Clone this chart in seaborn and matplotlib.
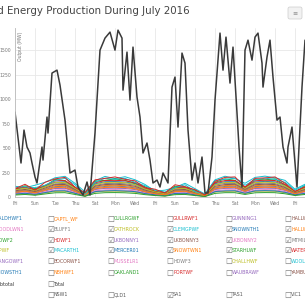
import numpy as np
import pandas as pd
import matplotlib
matplotlib.use('Agg')
import matplotlib.pyplot as plt
import matplotlib.dates as mdates
from matplotlib.patches import FancyBboxPatch
import seaborn as sns

# SA1 regional wind output (black line), day offset from 1 July 2016 and MW
sa1_day = [0.0, 0.6, 0.9, 1.2, 1.5, 1.7, 2.0, 2.2, 2.7, 2.8, 3.2, 3.3, 3.7, 4.2, 4.5, 5.0,
           5.5, 6.0, 6.3, 6.8, 7.2, 7.5, 8.0, 8.5, 9.0, 9.5, 10.0, 10.3, 10.7, 10.8, 11.2,
           11.5, 11.8, 12.2, 12.5, 12.8, 13.2, 13.5, 13.8, 14.2, 14.5, 14.8, 15.3, 15.7,
           16.0, 16.3, 16.7, 17.0, 17.3, 17.7, 18.0, 18.3, 18.7, 19.0, 19.3, 19.7, 20.0,
           20.5, 20.8, 21.1, 21.5, 21.8, 22.2, 22.4, 22.7, 23.0, 23.3, 23.7, 24.0, 24.3,
           24.7, 24.8, 25.2, 25.5, 25.8, 26.2, 26.5, 26.8, 27.2, 27.3, 27.7, 28.2, 28.7, 29.0]
sa1_mw = [867, 347, 683, 510, 449, 347, 204, 143, 510, 377, 816, 653, 1265, 1295, 1142, 785,
          245, 275, 102, 20, 153, 20, 653, 1499, 1622, 1683, 1499, 1703, 1622, 1091, 1479,
          989, 1530, 1020, 816, 449, 551, 377, 143, 173, 102, 245, 143, 1122,
          1224, 714, 1469, 1367, 683, 173, 347, 143, 408, 41, 41, 408, 989,
          1673, 1295, 1632, 1163, 1530, 857, 510, 102, 1499, 1601, 1397, 1632, 1673,
          1367, 1122, 1428, 1601, 1224, 785, 816, 510, 347, 510, 714, 102, 1122, 1601]

# daily output of the ticked wind farms (MW)
farm_day = list(range(30))
WOODLWN1 = [48, 62, 41, 72, 96, 93, 58, 17, 83, 97, 95, 98, 86, 52, 33, 22, 57, 61, 32, 12, 86, 96, 99, 58, 95, 99, 96, 73, 31, 59]
BLUFF1 = [72, 84, 61, 101, 134, 139, 83, 27, 118, 137, 140, 135, 121, 77, 47, 31, 79, 86, 46, 17, 122, 139, 138, 84, 136, 141, 137, 104, 47, 83]
CATHROCK = [26, 34, 22, 41, 57, 58, 36, 9, 51, 58, 60, 57, 49, 31, 19, 11, 33, 36, 19, 6, 51, 57, 59, 36, 58, 60, 58, 44, 19, 36]
CLEMGPWF = [110, 95, 120, 150, 196, 211, 140, 52, 165, 210, 188, 207, 176, 128, 60, 70, 98, 140, 85, 30, 175, 212, 190, 140, 200, 213, 196, 170, 80, 130]
SNOWNTH1 = [81, 96, 71, 112, 151, 156, 94, 31, 134, 156, 158, 153, 136, 86, 56, 36, 91, 96, 56, 21, 136, 156, 157, 96, 154, 159, 155, 119, 56, 94]
HALLWF1 = [56, 71, 51, 82, 116, 118, 71, 21, 101, 117, 119, 116, 101, 66, 41, 26, 66, 71, 41, 13, 101, 117, 119, 71, 116, 120, 117, 89, 41, 71]
HDWF2 = [75, 115, 85, 110, 180, 165, 95, 40, 160, 170, 185, 170, 140, 105, 55, 45, 110, 100, 70, 18, 150, 185, 170, 95, 180, 175, 185, 125, 50, 115]
HDWF1 = [84, 101, 74, 118, 165, 168, 101, 31, 145, 168, 170, 166, 145, 93, 58, 38, 96, 102, 58, 22, 145, 168, 169, 101, 166, 171, 168, 127, 58, 101]
LKBONNY1 = [42, 53, 38, 62, 87, 89, 53, 15, 76, 88, 90, 87, 76, 49, 30, 20, 50, 53, 30, 10, 76, 88, 90, 53, 87, 90, 88, 67, 30, 53]
LKBONNY3 = [63, 77, 56, 91, 126, 128, 77, 24, 110, 127, 130, 125, 110, 71, 44, 29, 72, 77, 44, 15, 110, 127, 129, 77, 126, 130, 127, 97, 44, 77]
LKBONNY2 = [35, 44, 31, 52, 72, 74, 44, 12, 63, 73, 75, 72, 63, 40, 25, 16, 41, 44, 25, 8, 63, 73, 74, 44, 72, 75, 73, 56, 25, 44]
MTMILLAR = [52, 65, 46, 76, 106, 109, 65, 19, 93, 108, 110, 106, 93, 60, 37, 24, 61, 65, 37, 12, 93, 108, 109, 65, 107, 110, 108, 82, 37, 65]
WPWF = [74, 89, 66, 104, 146, 149, 89, 28, 127, 148, 150, 146, 127, 82, 52, 34, 85, 89, 52, 19, 127, 148, 149, 89, 147, 151, 148, 112, 52, 89]
MACARTH1 = [100, 105, 95, 120, 170, 190, 125, 25, 150, 192, 180, 190, 150, 115, 70, 50, 95, 125, 55, 30, 170, 180, 192, 120, 175, 192, 180, 150, 70, 120]
MERCER01 = [30, 38, 27, 45, 63, 64, 38, 10, 55, 63, 65, 62, 55, 35, 22, 14, 36, 38, 22, 7, 55, 63, 64, 38, 63, 65, 63, 48, 22, 38]
SNOWTWN1 = [47, 59, 43, 69, 97, 99, 59, 17, 84, 98, 100, 97, 84, 54, 34, 22, 55, 59, 34, 11, 84, 98, 99, 59, 97, 100, 98, 74, 34, 59]
STARHLWF = [20, 26, 18, 31, 43, 44, 26, 7, 37, 44, 45, 43, 37, 24, 15, 9, 24, 26, 15, 5, 37, 44, 44, 26, 43, 45, 44, 33, 15, 26]
WATERLWF = [85, 130, 70, 150, 185, 200, 100, 45, 175, 190, 205, 180, 165, 95, 80, 40, 125, 105, 75, 20, 160, 200, 205, 100, 190, 195, 205, 140, 55, 105]

# checkbox legend, 6 columns, read row by row
legend_rows = [
    ['BALDHWF1', 'CAPTL_WF', 'CULLRGWF', 'GULLRWF1', 'GUNNING1', 'HALLWF2'],
    ['WOODLWN1', 'BLUFF1', 'CATHROCK', 'CLEMGPWF', 'SNOWNTH1', 'HALLWF1'],
    ['HDWF2', 'HDWF1', 'LKBONNY1', 'LKBONNY3', 'LKBONNY2', 'MTMILLAR'],
    ['WPWF', 'MACARTH1', 'MERCER01', 'SNOWTWN1', 'STARHLWF', 'WATERLWF'],
    ['BANGOWF1', 'BOCORWF1', 'MUSSELR1', 'HDWF3', 'CHALLHWF', 'WOOLNTH1'],
    ['SNOWSTH1', 'NBHWF1', 'OAKLAND1', 'PORTWF', 'WAUBRAWF', 'YAMBUKWF'],
    ['Subtotal', 'Total', '', '', '', ''],
    ['All', 'NSW1', 'QLD1', 'SA1', 'TAS1', 'VIC1'],
]
checked = ['WOODLWN1', 'BLUFF1', 'CATHROCK', 'CLEMGPWF', 'SNOWNTH1', 'HALLWF1',
           'HDWF2', 'HDWF1', 'LKBONNY1', 'LKBONNY3', 'LKBONNY2', 'MTMILLAR',
           'WPWF', 'MACARTH1', 'MERCER01', 'SNOWTWN1', 'STARHLWF', 'WATERLWF', 'SA1']

farms = {'WOODLWN1': WOODLWN1, 'BLUFF1': BLUFF1, 'CATHROCK': CATHROCK, 'CLEMGPWF': CLEMGPWF,
         'SNOWNTH1': SNOWNTH1, 'HALLWF1': HALLWF1, 'HDWF2': HDWF2, 'HDWF1': HDWF1,
         'LKBONNY1': LKBONNY1, 'LKBONNY3': LKBONNY3, 'LKBONNY2': LKBONNY2, 'MTMILLAR': MTMILLAR,
         'WPWF': WPWF, 'MACARTH1': MACARTH1, 'MERCER01': MERCER01, 'SNOWTWN1': SNOWTWN1,
         'STARHLWF': STARHLWF, 'WATERLWF': WATERLWF}

start = pd.Timestamp('2016-07-01')
tab = sns.color_palette('tab10')

# colour of each legend entry: tab10 cycling row by row
colours = {}
for r, row in enumerate(legend_rows[:6]):
    for c, name in enumerate(row):
        colours[name] = tab[(r * 6 + c) % 10]

df = pd.DataFrame([
    {'time': start + pd.Timedelta(days=d), 'MW': v, 'farm': name}
    for name, vals in farms.items() for d, v in zip(farm_day, vals)
])
sa1 = pd.DataFrame({'time': [start + pd.Timedelta(days=d) for d in sa1_day], 'MW': sa1_mw})

sns.set_style('white')
plt.rcParams['font.family'] = ['DejaVu Sans']

fig = plt.figure(figsize=(3.05, 3.02), dpi=100)
ax = fig.add_axes([15 / 305, 105 / 302, 1 - 15 / 305, 169 / 302])

sns.lineplot(data=df, x='time', y='MW', hue='farm', palette=colours, legend=False,
             lw=0.7, ax=ax)
sns.lineplot(data=sa1, x='time', y='MW', color='#3a3a3a', lw=1.1, ax=ax)

ax.set_xlim(start, start + pd.Timedelta(days=29))
ax.set_ylim(0, 1725)
ax.set_yticks(range(0, 1501, 250))
ax.xaxis.set_major_locator(mdates.DayLocator(bymonthday=range(1, 32, 2)))
ax.xaxis.set_major_formatter(mdates.DateFormatter('%a'))
ax.grid(True, color='#e8e8e8', lw=0.6)
ax.tick_params(labelsize=3.3, colors='#777777', length=1.5, width=0.4, pad=1.5)
ax.set_xlabel('')
ax.set_ylabel('')
for s in ['top', 'right']:
    ax.spines[s].set_visible(False)
for s in ['left', 'bottom']:
    ax.spines[s].set_color('#bbbbbb')
    ax.spines[s].set_linewidth(0.6)
ax.text(0.012, 0.98, 'Output (MW)', transform=ax.transAxes, rotation=90,
        fontsize=3.3, color='#777777', ha='left', va='top')

# title (cropped on the left in the screenshot)
fig.text(190 / 305, 1 - 11 / 302, 'Wind Energy Production During July 2016',
         ha='right', va='center', fontsize=7.4, color='#444444')

# export button
btn = FancyBboxPatch((288 / 305, 1 - 19 / 302), 14 / 305, 12 / 302,
                     boxstyle='round,pad=0,rounding_size=0.006', transform=fig.transFigure,
                     fc='#f2f2f2', ec='#cccccc', lw=0.5)
fig.patches.append(btn)
fig.text(295 / 305, 1 - 13 / 302, '≡', ha='center', va='center', fontsize=4.5, color='#888888')

# checkbox legend
col_x = [-12, 47, 107, 166, 225, 284]
row_y = [219, 229.5, 240, 250.5, 261.5, 273, 284, 295]
for r, row in enumerate(legend_rows):
    for c, name in enumerate(row):
        if not name:
            continue
        x, y = col_x[c], row_y[r]
        box = '☑' if name in checked else '☐'
        fig.text(x / 305, 1 - y / 302, box, ha='left', va='center', fontsize=5.5, color='#777777')
        col = colours.get(name, '#333333' if r == 6 else '#555555')
        fig.text((x + 7) / 305, 1 - y / 302, name, ha='left', va='center', fontsize=3.4, color=col)

fig.savefig('out.png', dpi=100)
